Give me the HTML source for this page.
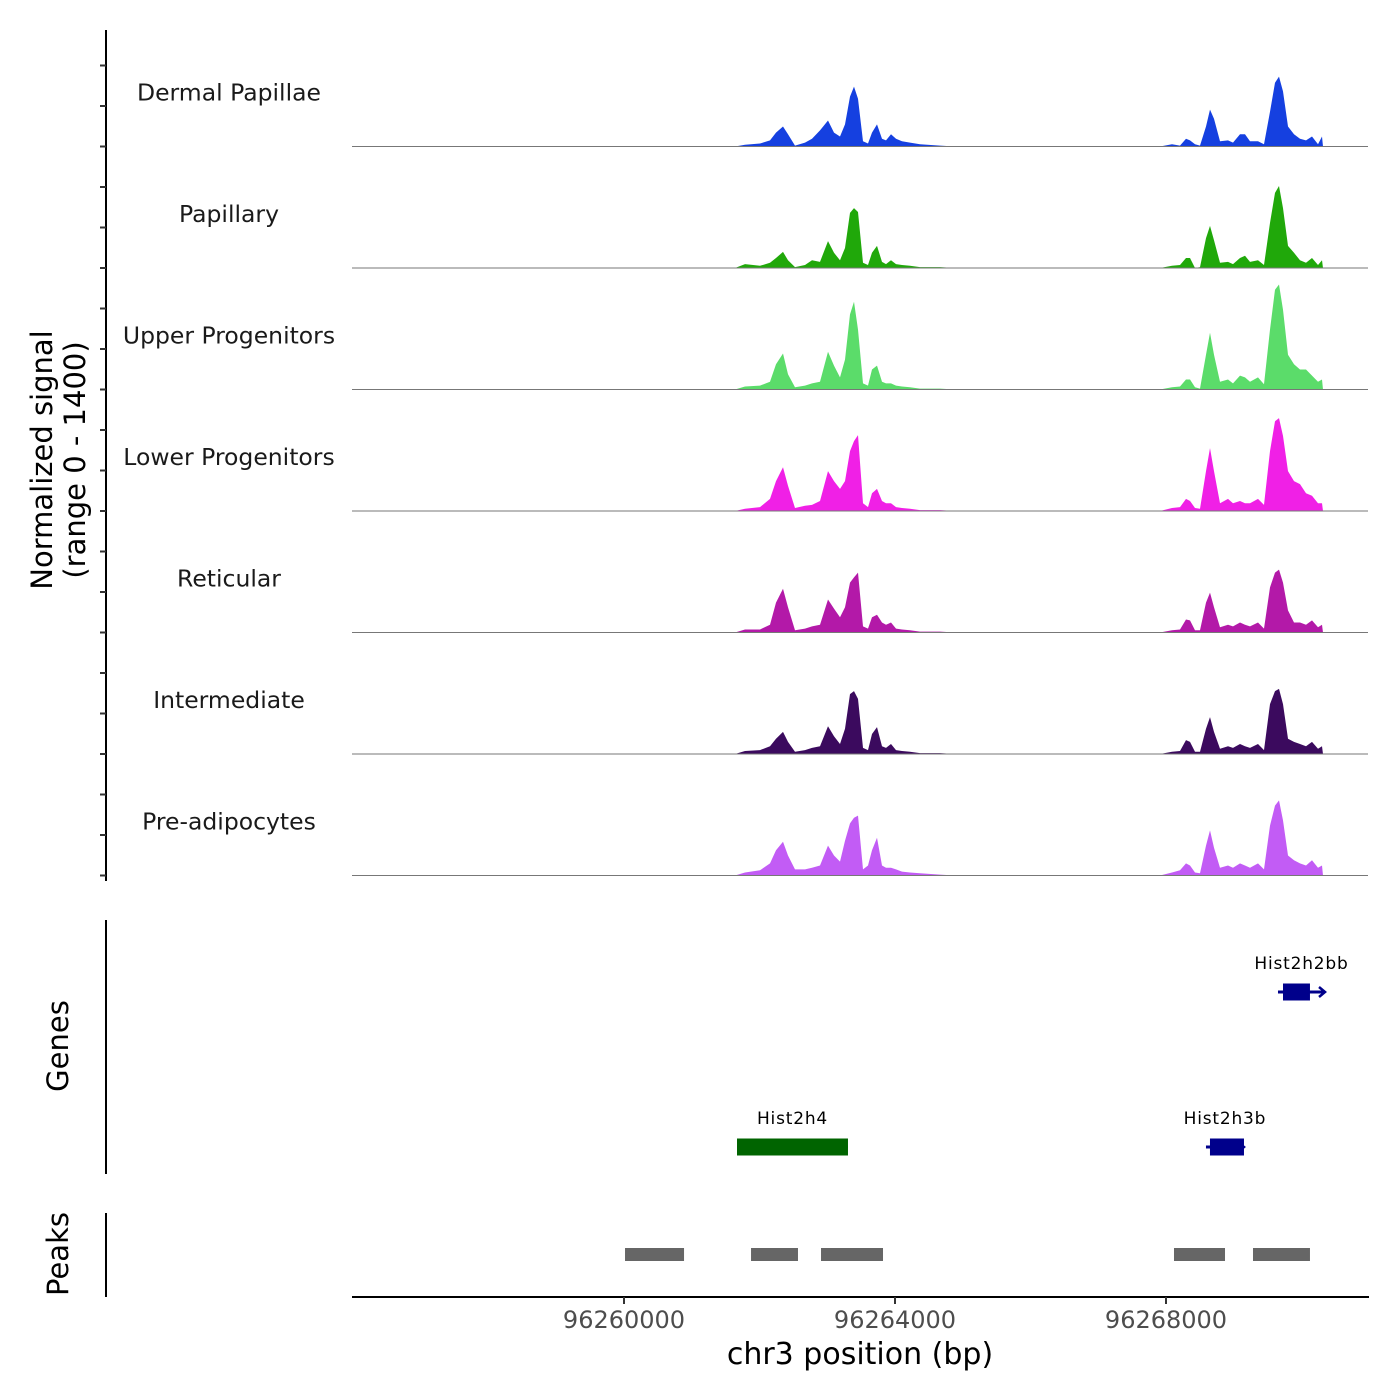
<!DOCTYPE html>
<html><head><meta charset="utf-8"><style>
body{margin:0;background:#fff}
svg{display:block;font-family:"DejaVu Sans","Liberation Sans",sans-serif}
</style></head><body>
<svg id="c" width="1400" height="1400" viewBox="0 0 1400 1400"></svg>
<script>
const positions=[96255985,96260236,96260384,96260531,96261638,96261786,96262007,96262155,96262244,96262347,96262421,96262524,96262672,96262775,96262893,96263011,96263100,96263188,96263262,96263336,96263395,96263454,96263528,96263601,96263660,96263734,96263808,96263867,96263941,96264015,96264103,96264221,96264369,96264664,96264886,96267911,96268088,96268206,96268295,96268354,96268428,96268502,96268590,96268649,96268708,96268797,96268915,96268989,96269092,96269166,96269240,96269358,96269446,96269535,96269609,96269668,96269727,96269801,96269889,96269978,96270066,96270155,96270243,96270302,96270317];
const trackNames=["Dermal Papillae","Papillary","Upper Progenitors","Lower Progenitors","Reticular","Intermediate","Pre-adipocytes"];
const dermalPapillae=[0,0,0,0,0,20,35,70,160,230,140,10,45,90,185,300,160,115,255,575,690,550,60,35,160,255,90,70,140,90,60,45,25,10,0,0,25,10,90,70,25,10,230,425,320,60,70,45,140,140,60,60,25,400,735,805,635,230,140,90,70,115,25,115,0];
const papillary=[0,0,0,0,0,45,25,60,115,185,90,10,35,90,70,310,175,90,230,635,690,645,60,35,175,255,70,45,90,45,35,25,10,10,0,0,25,35,115,115,0,10,345,485,320,60,70,45,115,140,70,90,35,520,865,945,690,255,175,90,60,115,35,90,0];
const upperProgenitors=[0,0,0,0,0,35,45,90,290,415,175,25,45,70,90,435,275,140,345,865,1010,690,70,45,230,275,90,70,70,45,35,25,10,10,0,0,25,35,115,115,25,10,400,655,400,90,115,70,160,140,90,140,60,690,1150,1210,920,400,290,230,230,160,90,115,0];
const lowerProgenitors=[0,0,0,0,0,25,45,140,345,505,290,35,60,70,115,460,345,255,345,690,805,875,90,45,205,255,115,90,90,45,35,25,10,10,0,0,35,45,140,115,35,25,460,725,460,90,140,90,115,90,90,140,70,690,1035,1070,865,460,345,310,205,175,90,90,0];
const reticular=[0,0,0,0,0,35,35,90,345,505,290,25,45,70,90,380,275,175,290,575,635,690,70,45,175,205,115,90,115,45,35,25,10,10,0,0,25,35,150,140,25,25,345,460,290,60,90,70,115,90,70,115,45,520,690,725,575,255,115,115,90,140,60,90,0];
const intermediate=[0,0,0,0,0,35,45,90,175,255,140,25,45,70,90,320,205,115,290,690,725,635,70,45,230,310,90,70,115,45,35,25,10,10,0,0,25,35,160,140,25,25,290,425,255,60,90,70,115,90,70,115,45,575,725,750,575,175,140,115,90,140,60,90,0];
const preAdipocytes=[0,0,0,0,0,35,60,140,290,390,230,70,70,90,115,345,230,160,400,600,665,690,70,115,290,435,115,90,90,70,45,35,25,10,0,0,35,60,140,115,35,25,345,520,320,90,115,90,140,115,90,140,70,575,805,865,635,230,175,140,115,175,90,115,0];
const xTicks=[96260000,96264000,96268000];
const geneNames=["Hist2h2bb","Hist2h4","Hist2h3b"];
const geneStarts=[96269653,96261668,96268590];
const geneEnds=[96270347,96263306,96269151];
const exonStarts=[96269727,96261668,96268649];
const exonEnds=[96270125,96263306,96269151];
const peakStarts=[96260015,96261875,96262908,96268118,96269284];
const peakEnds=[96260886,96262568,96263823,96268871,96270125];

const series=[dermalPapillae,papillary,upperProgenitors,lowerProgenitors,reticular,intermediate,preAdipocytes];
const colors=["#1540e0","#20a80a","#5bdc6a","#f020e6","#b319a8","#3b0a5e","#c25cf5"];
const NS="http://www.w3.org/2000/svg";
const svg=document.getElementById('c');
function el(t,a,p){const e=document.createElementNS(NS,t);for(const k in a)e.setAttribute(k,a[k]);(p||svg).appendChild(e);return e;}
const X=bp=>624+(bp-96260000)*0.06775;
const TH=121.5, B0=146.5, YMAX=1400;
const Y=(i,v)=>B0+i*TH-v/YMAX*TH;

let a=el('line',{x1:106,y1:30,x2:106,y2:881,stroke:'#000','stroke-width':2});


for(let i=0;i<7;i++){
  const base=B0+i*TH;
  for(let k=0;k<3;k++){
    const t=el('line',{x1:100,x2:106,y1:base-k*TH/3,y2:base-k*TH/3,stroke:'#333','stroke-width':2});
    
    
  }
}
const yt=el('text',{x:0,y:0,'font-size':29,'text-anchor':'middle',transform:'translate(52,460) rotate(-90)'});


el('tspan',{x:0,dy:0},yt).textContent='Normalized signal';
el('tspan',{x:0,dy:33},yt).textContent='(range 0 - 1400)';

for(let i=0;i<7;i++){
  const base=B0+i*TH;
  let d='M'+X(positions[0])+','+base;
  positions.forEach((p,j)=>{d+='L'+X(p).toFixed(1)+','+Y(i,series[i][j]).toFixed(1);});
  d+='L'+X(positions[positions.length-1])+','+base+'Z';
  const ar=el('path',{d:d,fill:colors[i]});
  
  
  const bl=el('line',{x1:352,x2:1368,y1:base,y2:base,stroke:'#777','stroke-width':1});
  
  
  const lb=el('text',{x:229,y:base-46,'font-size':23.5,'text-anchor':'middle',fill:'#1a1a1a'});
  lb.textContent=trackNames[i];
  
  
}

const ga=el('line',{x1:106,y1:920,x2:106,y2:1174,stroke:'#000','stroke-width':2});


const gt=el('text',{x:0,y:0,'font-size':29,'text-anchor':'middle',transform:'translate(68,1046) rotate(-90)'});
gt.textContent='Genes';


const geneRows=[992,1147,1147];
const geneCols=["#00008b","#006400","#00008b"];
for(let g=0;g<3;g++){
  const y=geneRows[g];
  const ln=el('line',{x1:X(geneStarts[g]),x2:X(geneEnds[g]),y1:y,y2:y,stroke:geneCols[g],'stroke-width':3});
  
  
  const bx=el('rect',{x:X(exonStarts[g]),y:y-8.5,width:X(exonEnds[g])-X(exonStarts[g]),height:17,fill:geneCols[g]});
  
  
  if(g!==1){
    const ex=X(geneEnds[g]);
    const ar2=el('path',{d:`M${ex-6},${y-5}L${ex},${y}L${ex-6},${y+5}`,stroke:geneCols[g],'stroke-width':2.5,fill:'none'});
    
    
  }
  const tl=el('text',{x:(X(geneStarts[g])+X(geneEnds[g]))/2,y:y-23,'font-size':17,'text-anchor':'middle',fill:'#000','letter-spacing':'0.8'});
  tl.textContent=geneNames[g];
  
  
}

const pa=el('line',{x1:106,y1:1213,x2:106,y2:1297,stroke:'#000','stroke-width':2});


const pt=el('text',{x:0,y:0,'font-size':29,'text-anchor':'middle',transform:'translate(68,1254) rotate(-90)'});
pt.textContent='Peaks';


for(let p=0;p<peakStarts.length;p++){
  const r=el('rect',{x:X(peakStarts[p]),y:1248,width:X(peakEnds[p])-X(peakStarts[p]),height:13,fill:'#666'});
  
  
}

const xa=el('line',{x1:352,x2:1369,y1:1297,y2:1297,stroke:'#000','stroke-width':2});


xTicks.forEach(t=>{
  const tk=el('line',{x1:X(t),x2:X(t),y1:1297,y2:1304,stroke:'#333','stroke-width':2});
  
  
  const tl=el('text',{x:X(t),y:1328,'font-size':24,'text-anchor':'middle',fill:'#4d4d4d'});
  tl.textContent=String(t);
  
  
});
const xt=el('text',{x:860,y:1364,'font-size':30,'text-anchor':'middle',fill:'#000'});
xt.textContent='chr3 position (bp)';


</script>
</body></html>
